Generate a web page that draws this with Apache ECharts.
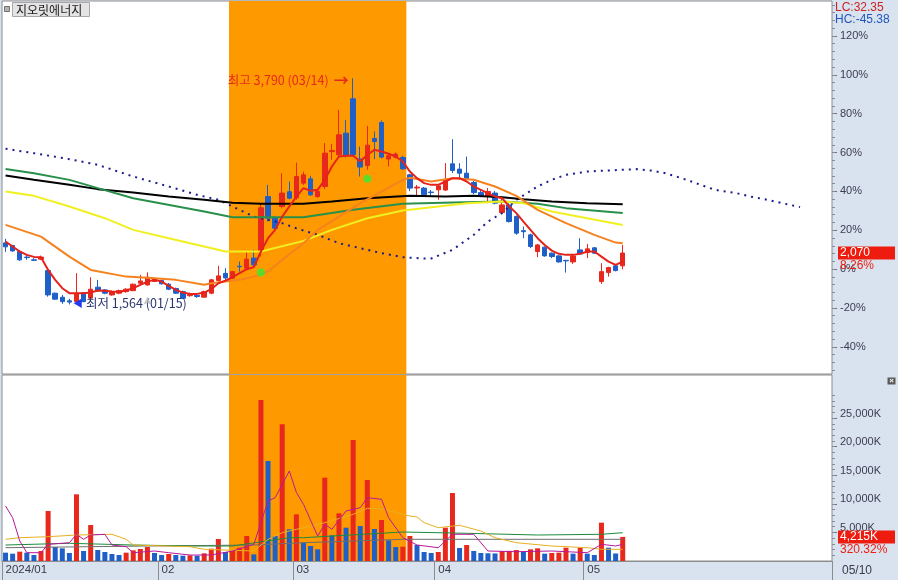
<!DOCTYPE html>
<html><head><meta charset="utf-8">
<script src="https://cdn.jsdelivr.net/npm/echarts@6/dist/echarts.min.js"></script>
<style>html,body{margin:0;padding:0;background:#fff}#c{width:898px;height:580px}</style>
</head><body><div id="c"></div>
<script>
// ---------------- data ----------------
const STOCK_NAME = '지오릿에너지';
const YEAR = 2024;
const BASE_PRICE = 1912;            // 0% reference price of the right axis
const DATES = ['01-02','01-03','01-04','01-05','01-08','01-09','01-10','01-11','01-12','01-15','01-16','01-17','01-18','01-19','01-22','01-23','01-24','01-25','01-26','01-29','01-30','01-31',
'02-01','02-02','02-05','02-06','02-07','02-08','02-13','02-14','02-15','02-16','02-19','02-20','02-21','02-22','02-23','02-26','02-27','02-28','02-29',
'03-04','03-05','03-06','03-07','03-08','03-11','03-12','03-13','03-14','03-15','03-18','03-19','03-20','03-21','03-22','03-25','03-26','03-27','03-28','03-29',
'04-01','04-02','04-03','04-04','04-05','04-08','04-09','04-11','04-12','04-15','04-16','04-17','04-18','04-19','04-22','04-23','04-24','04-25','04-26','04-29','04-30',
'05-02','05-03','05-07','05-08','05-09','05-10'];
const FUTURE_SLOTS = 29;
const OPEN = [2170,2144,2085,2030,2003,2010,1897,1675,1635,1600,
1592,1680,1626,1734,1707,1658,1675,1690,1700,1773,
1756,1790,1800,1763,1720,1690,1650,1655,1636,1675,
1800,1870,1823,1940,1921,2020,2085,2626,2413,2528,
2673,2613,2758,2800,2627,2725,3068,3037,3250,3588,
2995,2931,3198,3355,2995,3014,3010,2840,2710,2709,
2670,2692,2690,2948,2896,2856,2764,2665,2627,2660,
2469,2544,2429,2290,2249,2085,2128,2069,2042,1998,
1983,2101,2075,2121,1789,1878,1944,1944];
const CLOSE = [2131,2091,2003,2025,1998,2030,1658,1616,1592,1587,
1675,1592,1714,1700,1675,1690,1700,1714,1763,1795,
1832,1818,1767,1714,1675,1625,1662,1642,1690,1806,
1845,1825,1887,1935,2010,1954,2515,2413,2315,2660,
2610,2823,2840,2643,2676,3053,3078,3234,3027,3037,
2916,3132,3168,3014,3027,3044,2899,2709,2719,2643,
2665,2731,2791,2882,2856,2800,2665,2633,2676,2561,
2544,2380,2266,2280,2134,2150,2042,2036,1983,1993,
2042,2062,2111,2069,1887,1927,1897,2070];
const LOW = [2082,2082,1993,2003,1993,2000,1641,1610,1570,1564,
1585,1585,1620,1690,1665,1650,1665,1680,1695,1755,
1750,1785,1760,1705,1668,1618,1640,1630,1630,1665,
1790,1805,1815,1887,1910,1937,2035,2380,2300,2510,
2600,2594,2740,2630,2613,2700,2987,3020,3010,3020,
2823,2890,2995,3000,2922,3000,2890,2680,2627,2635,
2627,2594,2680,2856,2790,2790,2650,2620,2561,2550,
2460,2370,2250,2216,2118,2030,2035,2020,1975,1878,
1963,2052,2020,2060,1766,1838,1890,1910];
const HIGH = [2210,2150,2100,2052,2020,2045,1924,1680,1658,1620,
1872,1685,1832,1806,1715,1700,1710,1725,1770,1855,
1880,1830,1810,1775,1730,1700,1680,1665,1700,1815,
1944,1920,1895,1986,2085,2101,2554,2741,2430,2856,
2774,2961,2870,2830,2690,3152,3145,3480,3381,3790,
3118,3322,3266,3375,3047,3060,3027,2850,2740,2720,
2690,2740,2955,3191,2955,3020,2780,2690,2709,2680,
2626,2560,2440,2330,2260,2160,2135,2075,2050,2003,
2062,2216,2160,2130,1970,1935,1955,2150];
// volume in thousands of shares
const VOLUME = [1458,1283,1633,1458,1050,1750,8750,2450,2217,1400,
11667,1750,6300,1925,1575,1225,1050,1458,1867,2100,
2450,1400,1050,1225,1050,933,992,933,1342,2158,
3850,1575,1750,2333,4375,1167,28175,17500,4375,23917,
5542,8167,3208,2625,2042,14583,4492,8342,5833,21175,
6125,14175,5600,7175,3617,2450,2500,4375,2800,1575,
1400,1575,5833,11900,2275,2800,1750,1400,1350,1320,
1750,1780,1925,1575,2042,2217,1283,1400,1458,2333,
1283,2333,1283,1050,6708,2333,1316,4215];
// price moving averages
const MA_RED = [2183,2134,2085,2052,2032,2029,1904,1806,1724,1675,
1675,1675,1681,1701,1698,1691,1688,1701,1724,1757,
1789,1806,1789,1747,1707,1681,1668,1668,1681,1714,
1773,1799,1832,1872,1911,1931,2085,2216,2298,2429,
2528,2626,2709,2682,2692,2791,2922,3020,3027,3027,
2971,3037,3086,3069,3047,3020,2971,2872,2807,2758,
2741,2741,2774,2807,2807,2774,2725,2692,2660,2626,
2610,2528,2463,2380,2298,2216,2150,2094,2062,2052,
2052,2062,2085,2085,2035,1986,1954,1986];
const MA_ORANGE = [['01-02',2347],['01-09',2232],['01-15',2035],['01-18',1904],['01-25',1838],['01-30',1828],['02-05',1806],['02-13',1757],['02-14',1773],['02-16',1789],['02-20',1806],['02-22',1838],['02-26',1888],['02-28',2003],['03-05',2167],['03-07',2298],['03-12',2429],['03-15',2561],['03-20',2675],['03-25',2791],['03-26',2810],['03-29',2774],['04-03',2807],['04-08',2791],['04-12',2725],['04-17',2633],['04-22',2495],['04-26',2364],['05-03',2249],['05-09',2173],['05-10',2167]];
const MA_YELLOW = [['01-02',2675],['01-08',2633],['01-15',2528],['01-22',2413],['01-26',2298],['02-02',2216],['02-13',2134],['02-16',2085],['02-23',2085],['03-05',2190],['03-11',2298],['03-18',2413],['03-25',2488],['04-01',2528],['04-05',2561],['04-15',2577],['04-18',2561],['04-24',2479],['05-02',2413],['05-10',2347]];
const MA_GREEN = [['01-02',2896],['01-08',2856],['01-15',2790],['01-19',2709],['01-26',2610],['02-13',2478],['02-19',2423],['03-05',2423],['03-14',2495],['03-25',2554],['04-03',2567],['04-15',2577],['04-22',2554],['04-26',2512],['05-10',2463]];
const MA_BLACK = [['01-02',2833],['01-08',2791],['01-15',2741],['01-19',2699],['01-26',2666],['02-02',2626],['02-13',2594],['02-19',2564],['02-23',2554],['03-05',2554],['03-11',2577],['03-18',2610],['03-26',2633],['04-02',2626],['04-08',2633],['04-15',2620],['04-18',2600],['04-24',2577],['05-02',2561],['05-10',2551]];
const LEADING_SPAN = [['01-02',3096],['01-08',3053],['01-15',2994],['01-19',2938],['01-26',2823],['02-02',2725],['02-08',2643],['02-15',2594],['02-19',2528],['02-22',2429],['02-28',2364],['03-04',2313],['03-07',2249],['03-12',2167],['03-15',2118],['03-20',2069],['03-25',2029],['03-28',2016],['03-29',2016],['04-03',2101],['04-08',2249],['04-11',2380],['04-15',2463],['04-17',2594],['04-22',2725],['04-24',2791],['04-26',2840],['05-02',2872],['05-07',2879],['+2',2896],['+4',2882],['+6',2856],['+9',2791],['+11',2741],['+13',2692],['+16',2660],['+18',2626],['+20',2599],['+25',2522]];
// volume moving averages (thousands)
const VMA_MAGENTA = [['01-02',9625],['01-03',7578],['01-04',3500],['01-05',1453],['01-09',1453],['01-10',2923],['01-15',3203],['01-16',4673],['01-17',3798],['01-18',4550],['01-22',4673],['01-23',2800],['01-25',2503],['01-26',1453],['01-31',1750],['02-02',1453],['02-07',1050],['02-14',1050],['02-19',1750],['02-22',2923],['02-26',10500],['02-27',11078],['02-29',15750],['03-04',12000],['03-05',9923],['03-07',4375],['03-08',6423],['03-11',5548],['03-13',8750],['03-15',9328],['03-18',11078],['03-20',10798],['03-21',7578],['03-25',4078],['03-27',2800],['04-01',2328],['04-03',4673],['04-08',4673],['04-11',1750],['04-17',1628],['04-24',1750],['05-02',1453],['05-07',2923],['05-09',2625],['05-10',2923]];
const VMA_GOLD = [['01-02',3798],['01-04',4078],['01-10',4253],['01-16',4550],['01-23',4673],['01-25',3798],['01-26',2800],['02-07',2503],['02-13',2048],['02-19',1873],['02-22',1750],['02-26',3798],['02-28',4953],['03-04',5548],['03-05',5828],['03-08',6703],['03-14',8173],['03-18',9223],['03-20',9153],['03-25',8173],['03-26',7875],['03-27',7700],['03-28',6703],['04-01',5828],['04-04',6248],['04-09',5250],['04-12',4078],['04-17',3203],['04-24',2625],['05-02',2328],['05-07',2048],['05-10',2048]];
const VMA_GREEN = [['01-02',2800],['01-15',3098],['01-26',2800],['02-07',2625],['02-19',2625],['02-29',4078],['03-05',4078],['03-25',5075],['04-05',4848],['04-22',4550],['05-07',4673],['05-10',4953]];
const VMA_GRAY = [['01-02',2328],['01-30',2625],['02-22',2800],['03-05',3203],['03-25',3798],['05-10',3798]];
const HIGHLIGHT = ['02-19','03-25'];
const SIGNALS = [['02-23',1878],['03-18',2800]];
const MARKERS = [['01-30',1641]];
const PCT_TICKS = [-40,-20,0,20,40,60,80,100,120];
const VOL_TICKS = [5000,10000,15000,20000,25000];
const VOL_RATIO_TEXT = '320.32%';

// ---------------- chart ----------------
const RED = '#e8281c', BLUE = '#1f5fc8';
const AXIS_FONT = "'Liberation Sans',Arial,sans-serif";
const KR_FONT = "'Noto Sans CJK KR','Noto Sans',sans-serif";
const ALL_CATS = DATES.concat(Array.from({length: FUTURE_SLOTS}, (_, i) => '+' + (i + 1)));
const N = DATES.length;
const last = N - 1;
const pctToPrice = p => BASE_PRICE * (1 + p / 100);
const PMIN = pctToPrice(-54), PMAX = pctToPrice(138);
const VMAX = 32550;
const fmt = v => Math.round(v).toLocaleString('en-US');
const isMonthStart = i => i < N && (i === 0 || DATES[i].slice(0, 2) !== DATES[i - 1].slice(0, 2));

let hiIdx = 0, loIdx = 0;
HIGH.forEach((v, i) => { if (v > HIGH[hiIdx]) hiIdx = i; });
LOW.forEach((v, i) => { if (v < LOW[loIdx]) loIdx = i; });
const lastClose = CLOSE[last];
const lcText = 'LC:' + ((lastClose / LOW[loIdx] - 1) * 100).toFixed(2);
const hcText = 'HC:' + ((lastClose / HIGH[hiIdx] - 1) * 100).toFixed(2);
const pctText = ((lastClose / BASE_PRICE - 1) * 100).toFixed(2) + '%';

const minorPct = []; for (let p = -52; p <= 136; p += 4) minorPct.push(pctToPrice(p));
const minorVol = []; for (let v = 1000; v <= 29000; v += 1000) minorVol.push(v);

const candleData = DATES.map((d, i) => [OPEN[i], CLOSE[i], LOW[i], HIGH[i]]);
const hl = [ALL_CATS.indexOf(HIGHLIGHT[0]), ALL_CATS.indexOf(HIGHLIGHT[1])];

function band(xi, yi, yRef) {
  return { type: 'custom', xAxisIndex: xi, yAxisIndex: yi, z: 1, silent: true,
    data: [[hl[0], hl[1]]], encode: { x: [0, 1] },
    renderItem: (params, api) => {
      const s = api.coord([api.value(0), yRef]);
      const e = api.coord([api.value(1), yRef]);
      const bw = api.size([1, 0])[0];
      const cs = params.coordSys;
      return { type: 'rect', shape: { x: s[0] - bw / 2, y: cs.y, width: e[0] - s[0] + bw, height: cs.height }, style: { fill: '#ff9900' } };
    } };
}
function line(data, color, width, xi, yi, extra) {
  return Object.assign({ type: 'line', xAxisIndex: xi, yAxisIndex: yi, data, symbol: 'none', silent: true, z: 5,
    lineStyle: { color, width } }, extra || {});
}
const boxRich = {
  e: { height: 13, lineHeight: 13 },
  a: { backgroundColor: '#ee1c0e', color: '#fff', width: 53, height: 13, lineHeight: 13, padding: [0, 2, 0, 2], fontSize: 12, fontFamily: AXIS_FONT },
  b: { color: '#ee1c0e', height: 13, lineHeight: 13, padding: [0, 0, 0, 2], fontSize: 12, fontFamily: AXIS_FONT }
};

const chart = echarts.init(document.getElementById('c'), null, { renderer: 'canvas' });
chart.setOption({
  animation: false,
  backgroundColor: '#d9e3ef',
  textStyle: { fontFamily: AXIS_FONT },
  grid: [
    { left: 2, top: 1, width: 830, height: 373, show: true, backgroundColor: '#fff', borderColor: '#8c8c8c', borderWidth: 1 },
    { left: 2, top: 375, width: 830, height: 186, show: true, backgroundColor: '#fff', borderColor: '#8c8c8c', borderWidth: 1 }
  ],
  xAxis: [
    { type: 'category', gridIndex: 0, data: ALL_CATS, boundaryGap: true, show: false },
    { type: 'category', gridIndex: 1, data: ALL_CATS, boundaryGap: true,
      axisLine: { show: true, lineStyle: { color: '#8c8c8c' } },
      axisTick: { show: true, interval: (i) => isMonthStart(i), length: 19, lineStyle: { color: '#8c8c8c' } },
      axisLabel: { interval: (i) => isMonthStart(i), formatter: (v, i) => (i === 0 ? YEAR + '/' : '') + v.slice(0, 2),
        align: 'left', margin: 3, color: '#3a3a48', fontSize: 11.5, fontFamily: AXIS_FONT } }
  ],
  yAxis: [
    { type: 'value', gridIndex: 0, position: 'right', min: PMIN, max: PMAX, splitLine: { show: false },
      axisLine: { show: false },
      axisTick: { show: true, customValues: PCT_TICKS.map(pctToPrice), length: 5, lineStyle: { color: '#707080' } },
      axisLabel: { customValues: PCT_TICKS.map(pctToPrice), formatter: v => Math.round((v / BASE_PRICE - 1) * 100) + '%',
        color: '#3c3c50', fontSize: 11, fontFamily: AXIS_FONT, margin: 8 } },
    { type: 'value', gridIndex: 0, position: 'right', min: PMIN, max: PMAX, splitLine: { show: false },
      axisLine: { show: false }, axisLabel: { show: false },
      axisTick: { show: true, customValues: minorPct, length: 3, lineStyle: { color: '#8a8a98' } } },
    { type: 'value', gridIndex: 0, position: 'right', min: PMIN, max: PMAX, splitLine: { show: false },
      axisLine: { show: false }, axisTick: { show: false },
      axisLabel: { customValues: [lastClose], margin: 6, formatter: () => '{e|}\n{a|' + fmt(lastClose) + '}\n{b|' + pctText + '}', rich: boxRich } },
    { type: 'value', gridIndex: 1, position: 'right', min: 0, max: VMAX, splitLine: { show: false },
      axisLine: { show: false },
      axisTick: { show: true, customValues: VOL_TICKS, length: 5, lineStyle: { color: '#707080' } },
      axisLabel: { customValues: VOL_TICKS, formatter: v => fmt(v) + 'K', color: '#3c3c50', fontSize: 11, fontFamily: AXIS_FONT, margin: 8,
        verticalAlign: 'bottom', lineHeight: 9 } },
    { type: 'value', gridIndex: 1, position: 'right', min: 0, max: VMAX, splitLine: { show: false },
      axisLine: { show: false }, axisLabel: { show: false },
      axisTick: { show: true, customValues: minorVol, length: 3, lineStyle: { color: '#8a8a98' } } },
    { type: 'value', gridIndex: 1, position: 'right', min: 0, max: VMAX, splitLine: { show: false },
      axisLine: { show: false }, axisTick: { show: false },
      axisLabel: { customValues: [VOLUME[last]], margin: 6, formatter: () => '{e|}\n{a|' + fmt(VOLUME[last]) + 'K}\n{b|' + VOL_RATIO_TEXT + '}', rich: boxRich } }
  ],
  series: [
    band(0, 0, BASE_PRICE),
    band(1, 3, 0),
    { type: 'bar', xAxisIndex: 1, yAxisIndex: 3, barWidth: 5, z: 3, silent: true,
      data: VOLUME.map((v, i) => ({ value: v, itemStyle: { color: (i === 0 || v < VOLUME[i - 1]) ? BLUE : RED } })) },
    line(VMA_GRAY, '#6e6e6e', 1, 1, 3),
    line(VMA_GREEN, '#1c8c3c', 1, 1, 3),
    line(VMA_GOLD, '#e8b020', 1, 1, 3),
    line(VMA_MAGENTA, '#b8189c', 1, 1, 3),
    { type: 'candlestick', xAxisIndex: 0, yAxisIndex: 0, data: candleData, barWidth: 5, z: 4, silent: true,
      itemStyle: { color: RED, color0: BLUE, borderColor: RED, borderColor0: BLUE, borderWidth: 1 },
      markPoint: { symbol: 'circle', symbolSize: 1, silent: true, itemStyle: { color: 'rgba(0,0,0,0)' },
        data: [
          { coord: [DATES[hiIdx], HIGH[hiIdx]],
            label: { show: true, position: 'left', distance: 4, offset: [0, 2],
              formatter: '{t|최고 ' + fmt(HIGH[hiIdx]) + ' (' + DATES[hiIdx].replace('-', '/') + ')}{a|→}',
              rich: { t: { color: '#e8281c', fontSize: 12.5, fontFamily: KR_FONT },
                a: { color: '#e8281c', fontSize: 15, fontWeight: 'bold', fontFamily: KR_FONT, padding: [0, 0, 0, 5] } } } },
          { coord: [DATES[loIdx], LOW[loIdx]],
            label: { show: true, position: 'right', distance: 3, offset: [0, -1],
              formatter: '{a|◀}{b|최저 ' + fmt(LOW[loIdx]) + ' (' + DATES[loIdx].replace('-', '/') + ')}',
              rich: { a: { color: '#1e3cf0', fontSize: 10, fontFamily: KR_FONT },
                b: { color: '#2b3670', fontSize: 12.5, fontFamily: KR_FONT, padding: [0, 0, 0, 3] } } } }
        ] } },
    line(LEADING_SPAN, '#1c1c8c', 2, 0, 0, { lineStyle: { color: '#1c1c8c', width: 2, type: [2, 5] } }),
    line(MA_BLACK, '#000000', 2, 0, 0),
    line(MA_GREEN, '#28904a', 2, 0, 0),
    line(MA_YELLOW, '#f0f020', 2, 0, 0),
    line(MA_ORANGE, '#f5821f', 2, 0, 0),
    line(MA_RED, '#e5231b', 2, 0, 0, { data: MA_RED.map((v, i) => [DATES[i], v]) }),
    { type: 'scatter', xAxisIndex: 0, yAxisIndex: 0, data: SIGNALS, symbolSize: 8, z: 6, silent: true, itemStyle: { color: '#33ee33' } },
    { type: 'scatter', xAxisIndex: 0, yAxisIndex: 0, data: MARKERS, symbol: 'arrow', symbolSize: [6, 8], z: 6, silent: true, itemStyle: { color: '#b8b8b8' } }
  ],
  graphic: [
    { type: 'rect', shape: { x: 4.5, y: 6.5, width: 5, height: 5 }, style: { fill: '#b4b4b4', stroke: '#707070', lineWidth: 1 }, z: 100 },
    { type: 'rect', shape: { x: 12.5, y: 2.5, width: 77, height: 14 }, style: { fill: '#e4e4e4', stroke: '#a8a8a8', lineWidth: 1 }, z: 100 },
    { type: 'text', x: 16, y: 10, style: { text: STOCK_NAME, fill: '#1a1a1a', font: '12px ' + KR_FONT, verticalAlign: 'middle' }, z: 101 },
    { type: 'text', x: 835, y: 8, style: { text: lcText, fill: '#cc2222', font: '12px ' + AXIS_FONT, verticalAlign: 'middle' }, z: 101 },
    { type: 'text', x: 835, y: 19.5, style: { text: hcText, fill: '#2255bb', font: '12px ' + AXIS_FONT, verticalAlign: 'middle' }, z: 101 },
    { type: 'text', x: 842, y: 571, style: { text: DATES[last].replace('-', '/'), fill: '#3a3a48', font: '12px ' + AXIS_FONT, verticalAlign: 'middle' }, z: 101 },
    { type: 'rect', shape: { x: 887.5, y: 377.5, width: 8, height: 7 }, style: { fill: '#5a5a5a' }, z: 100 },
    { type: 'text', x: 891.5, y: 381, style: { text: '×', fill: '#fff', font: 'bold 8px sans-serif', align: 'center', verticalAlign: 'middle' }, z: 101 }
  ]
});
</script>
</body></html>
